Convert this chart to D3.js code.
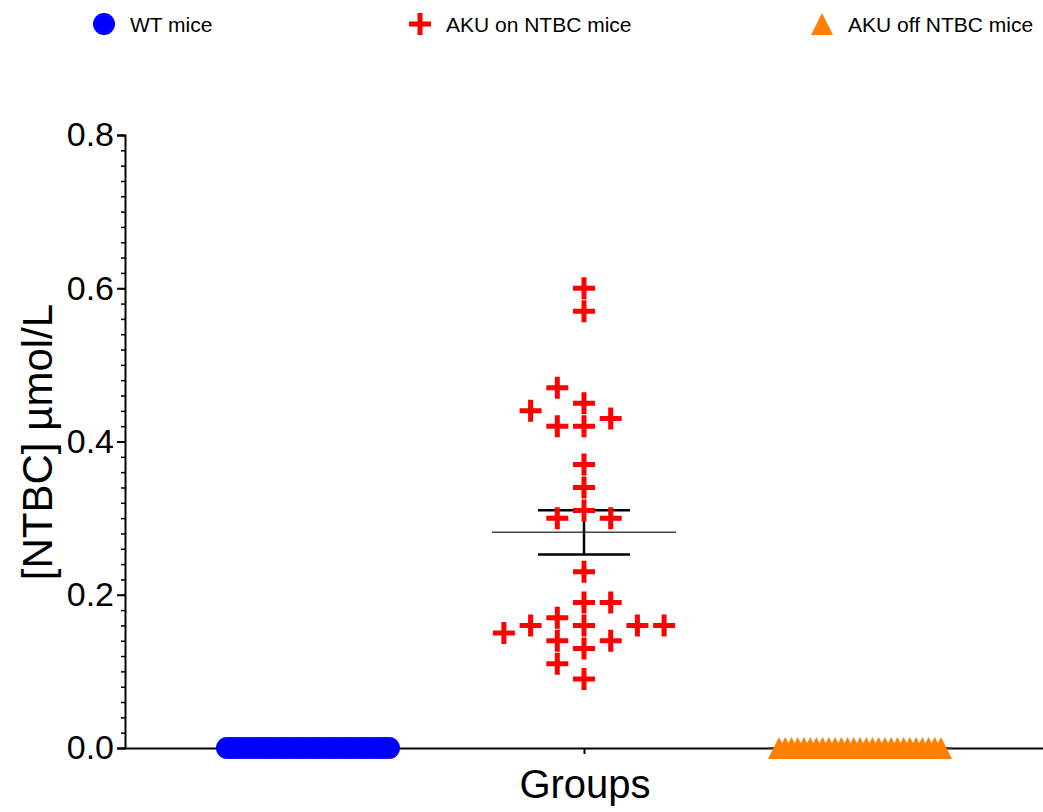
<!DOCTYPE html>
<html>
<head>
<meta charset="utf-8">
<script src="https://cdn.jsdelivr.net/npm/d3@7"></script>
<style>
  body { margin: 0; background: #fff; }
  text { font-family: "Liberation Sans", Arial, sans-serif; }
</style>
</head>
<body>
<svg id="chart"></svg>
<script>
var width = 1043
var height = 812

// groups on the x axis
var groups = ["WT mice", "AKU on NTBC mice", "AKU off NTBC mice"]
var colors = ["#0000ff", "#ff0000", "#ff8000"]
var shapes = ["circle", "cross", "triangle"]

// NTBC values, umol/L
var wtValues = [0, 0, 0, 0, 0, 0, 0, 0, 0, 0, 0, 0, 0, 0, 0, 0, 0, 0, 0, 0, 0, 0, 0, 0, 0, 0, 0, 0, 0, 0, 0]
var akuOnValues = [0.60, 0.57, 0.45, 0.42, 0.37, 0.34, 0.31, 0.23, 0.19, 0.16, 0.13,
  0.47, 0.42, 0.30, 0.17, 0.14, 0.09, 0.43, 0.30, 0.14, 0.11,
  0.16, 0.44, 0.16, 0.15, 0.19, 0.16]
var akuOffValues = [0, 0, 0, 0, 0, 0, 0, 0, 0, 0, 0, 0, 0, 0, 0, 0, 0, 0, 0, 0, 0, 0, 0, 0, 0, 0, 0]
var allValues = [wtValues, akuOnValues, akuOffValues]

var yTicks = [0, 0.2, 0.4, 0.6, 0.8]
var yMinorTicks = d3.range(0, 0.8001, 0.02)

var svg = d3.select("#chart")
  .attr("width", width)
  .attr("height", height)

var x = d3.scalePoint()
  .domain(groups)
  .range([125, 1043])
  .padding(0.663)

var y = d3.scaleLinear()
  .domain([0, 0.8])
  .range([748, 135])

var circleSym = d3.symbol().type(d3.symbolCircle).size(Math.PI * 11 * 11)

function plusPath(s, t) {
  var h = s / 2, w = t / 2
  return "M" + (-w) + "," + (-h) + "H" + w + "V" + (-w) + "H" + h + "V" + w + "H" + w + "V" + h +
    "H" + (-w) + "V" + w + "H" + (-h) + "V" + (-w) + "H" + (-w) + "Z"
}
function triPath(s) {
  var h = s / 2
  return "M0," + (-h) + "L" + (s / 2) + "," + h + "L" + (-s / 2) + "," + h + "Z"
}
function shapePath(shape) {
  if (shape == "circle") return circleSym()
  if (shape == "cross") return plusPath(22, 5)
  return triPath(22)
}

// prism-like column scatter: put each point in the nearest free slot
function scatter(values, step, maxSpan) {
  var placed = []
  values.forEach(function(v) {
    var py = y(v)
    var k = 0, slot = 0
    while (true) {
      slot = k == 0 ? 0 : (k % 2 ? -(k + 1) / 2 : k / 2)
      var hit = placed.some(function(p) {
        return p.slot == slot && Math.abs(p.py - py) < 20
      })
      if (!hit) break
      k++
    }
    placed.push({ v: v, py: py, slot: slot })
  })
  var lo = d3.min(placed, function(p) { return p.slot })
  var hi = d3.max(placed, function(p) { return p.slot })
  var s = (hi - lo) * step > maxSpan ? maxSpan / (hi - lo) : step
  var mid = (lo + hi) / 2
  placed.forEach(function(p) { p.dx = (p.slot - mid) * s })
  return placed
}

// axes
var yAxis = svg.append("g")
  .attr("transform", "translate(125,0)")
  .call(d3.axisLeft(y).tickValues(yTicks).tickSize(8).tickPadding(3).tickFormat(d3.format(".1f")))
yAxis.selectAll("text").style("font-size", "34px").attr("fill", "#000")
yAxis.select(".domain").attr("stroke-width", 2)
yAxis.selectAll(".tick line").attr("stroke-width", 2)

var yMinor = svg.append("g")
  .attr("transform", "translate(125,0)")
  .call(d3.axisLeft(y).tickValues(yMinorTicks).tickSize(4).tickFormat(""))
yMinor.select(".domain").remove()
yMinor.selectAll(".tick line").attr("stroke-width", 1.5)

var xAxis = svg.append("g")
  .attr("transform", "translate(0,748)")
  .call(d3.axisBottom(x).tickSize(6).tickSizeOuter(0).tickFormat(""))
xAxis.select(".domain").attr("stroke-width", 2)
xAxis.selectAll(".tick line").attr("stroke-width", 2)

svg.append("text")
  .attr("x", 585)
  .attr("y", 798)
  .attr("text-anchor", "middle")
  .style("font-size", "40px")
  .text("Groups")

svg.append("text")
  .attr("transform", "translate(52,442) rotate(-90)")
  .attr("text-anchor", "middle")
  .style("font-size", "42px")
  .text("[NTBC] µmol/L")

// mean and SEM
groups.forEach(function(g, i) {
  var vals = allValues[i]
  var m = d3.mean(vals)
  var sem = d3.deviation(vals) / Math.sqrt(vals.length)
  var cx = x(g)
  var eb = svg.append("g")
  eb.append("line")
    .attr("x1", cx - 92).attr("x2", cx + 92)
    .attr("y1", y(m)).attr("y2", y(m))
    .attr("stroke", "#444").attr("stroke-width", 1.5)
  eb.append("line")
    .attr("x1", cx).attr("x2", cx)
    .attr("y1", y(m + sem)).attr("y2", y(m - sem))
    .attr("stroke", "black").attr("stroke-width", 2.5)
  ;[m + sem, m - sem].forEach(function(v) {
    eb.append("line")
      .attr("x1", cx - 46).attr("x2", cx + 46)
      .attr("y1", y(v)).attr("y2", y(v))
      .attr("stroke", "black").attr("stroke-width", 2.5)
  })
})

// points
groups.forEach(function(g, i) {
  var pts = scatter(allValues[i], 26.7, 162)
  svg.append("g").selectAll("path")
    .data(pts)
    .join("path")
    .attr("d", shapePath(shapes[i]))
    .attr("fill", colors[i])
    .attr("transform", function(d) {
      return "translate(" + (x(g) + d.dx) + "," + d.py + ")"
    })
})

// legend
var legendX = [104, 420, 822]
var legend = svg.append("g")
legend.selectAll("path")
  .data(groups)
  .join("path")
  .attr("d", function(d, i) { return shapePath(shapes[i]) })
  .attr("fill", function(d, i) { return colors[i] })
  .attr("transform", function(d, i) { return "translate(" + legendX[i] + ",24)" })
legend.selectAll("text")
  .data(groups)
  .join("text")
  .attr("x", function(d, i) { return legendX[i] + 26 })
  .attr("y", 32)
  .style("font-size", "21px")
  .text(function(d) { return d })
</script>
</body>
</html>
